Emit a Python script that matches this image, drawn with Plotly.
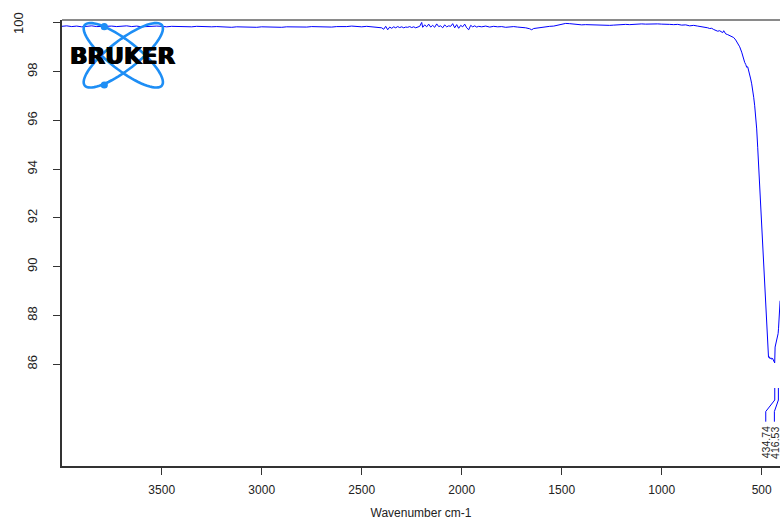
import math
import plotly.graph_objects as go

# ---------------- data ----------------
wavenumber = [
    4000, 3975, 3950, 3925, 3900, 3875, 3850, 3825, 3800, 3775, 3750, 3725, 3700, 3675, 3650, 3625,
    3600, 3575, 3550, 3525, 3500, 3475, 3450, 3425, 3400, 3375, 3350, 3325, 3300, 3275, 3250, 3225,
    3200, 3175, 3150, 3125, 3100, 3075, 3050, 3025, 3000, 2975, 2950, 2925, 2900, 2875, 2850, 2825,
    2800, 2775, 2750, 2725, 2700, 2675, 2650, 2625, 2600, 2575, 2550, 2525, 2500, 2475, 2450, 2425,
    2400, 2390, 2380, 2370, 2360, 2350, 2340, 2330, 2320, 2310, 2300, 2290, 2280, 2270, 2260, 2250,
    2240, 2230, 2220, 2210, 2200, 2195, 2185, 2175, 2165, 2155, 2145, 2135, 2125, 2115, 2105, 2095,
    2085, 2075, 2065, 2055, 2045, 2035, 2025, 2015, 2005, 1995, 1985, 1975, 1965, 1955, 1945, 1935,
    1925, 1915, 1900, 1880, 1860, 1840, 1820, 1800, 1780, 1760, 1740, 1720, 1700, 1680, 1660, 1650,
    1640, 1620, 1600, 1580, 1560, 1540, 1520, 1500, 1480, 1460, 1440, 1420, 1400, 1380, 1360, 1340,
    1320, 1300, 1280, 1260, 1240, 1220, 1200, 1180, 1160, 1140, 1120, 1100, 1080, 1060, 1040, 1020,
    1000, 980, 960, 940, 920, 900, 880, 860, 840, 820, 800, 790, 780, 770, 760, 750,
    740, 730, 720, 710, 700, 695, 690, 685, 680, 670, 660, 650, 640, 630, 620, 610,
    600, 595, 590, 585, 580, 575, 570, 565, 560, 555, 550, 545, 540, 535, 530, 525,
    520, 515, 510, 505, 500, 495, 490, 485, 480, 475, 470, 466, 462, 458, 454, 450,
    446, 442, 438, 435, 433, 430, 427, 424, 421, 418, 416, 413, 410, 408,
]
transmittance = [
    99.86, 99.88, 99.85, 99.87, 99.84, 99.86, 99.88, 99.85, 99.86, 99.84, 99.87, 99.85, 99.86, 99.88, 99.85, 99.87,
    99.84, 99.86, 99.85, 99.87, 99.86, 99.84, 99.86, 99.85, 99.83, 99.85, 99.84, 99.86, 99.85, 99.83, 99.84, 99.85,
    99.83, 99.84, 99.82, 99.84, 99.83, 99.85, 99.84, 99.82, 99.84, 99.83, 99.85, 99.84, 99.82, 99.84, 99.83, 99.85,
    99.84, 99.83, 99.85, 99.84, 99.86, 99.84, 99.83, 99.85, 99.84, 99.85, 99.87, 99.85, 99.84, 99.86, 99.85, 99.83,
    99.80, 99.74, 99.86, 99.72, 99.83, 99.78, 99.84, 99.80, 99.85, 99.81, 99.84, 99.80, 99.83, 99.82, 99.85, 99.81,
    99.84, 99.80, 99.83, 99.86, 100.02, 99.82, 99.92, 99.84, 99.95, 99.83, 99.90, 99.82, 99.96, 99.85, 99.88, 99.80,
    99.92, 99.84, 99.88, 99.86, 99.97, 99.80, 99.93, 99.78, 99.90, 99.84, 99.95, 99.80, 99.72, 99.90, 99.84, 99.88,
    99.83, 99.86, 99.84, 99.87, 99.83, 99.86, 99.84, 99.85, 99.82, 99.84, 99.85, 99.83, 99.82, 99.80, 99.76, 99.72,
    99.77, 99.80, 99.83, 99.85, 99.86, 99.87, 99.90, 99.95, 99.98, 99.97, 99.95, 99.93, 99.92, 99.93, 99.92, 99.91,
    99.93, 99.92, 99.91, 99.90, 99.91, 99.93, 99.92, 99.94, 99.93, 99.95, 99.94, 99.96, 99.95, 99.96, 99.97, 99.96,
    99.95, 99.96, 99.94, 99.93, 99.94, 99.91, 99.92, 99.88, 99.90, 99.87, 99.85, 99.83, 99.84, 99.80, 99.77, 99.78,
    99.73, 99.70, 99.66, 99.68, 99.64, 99.60, 99.68, 99.58, 99.55, 99.52, 99.47, 99.45, 99.40, 99.30, 99.18, 99.02,
    98.80, 98.62, 98.55, 98.38, 98.30, 98.18, 98.20, 97.98, 97.85, 97.70, 97.50, 97.30, 96.95, 96.60, 96.15, 95.65,
    94.90, 94.10, 93.20, 92.20, 91.60, 90.80, 90.00, 89.20, 88.30, 87.40, 86.60, 86.28, 86.30, 86.22, 86.26, 86.20,
    86.24, 86.18, 86.08, 86.05, 86.70, 86.82, 86.90, 86.95, 87.05, 87.25, 87.45, 88.00, 88.40, 88.60,
]
peak_positions = [434.74, 416.53]
peak_labels = ["434.74", "416.53"]
x_tick_values = [3500, 3000, 2500, 2000, 1500, 1000, 500]
y_tick_values = [86, 88, 90, 92, 94, 96, 98, 100]

# ---------------- layout geometry ----------------
W, H = 780, 520
ML, MR, MT, MB = 62, 0, 20, 54
X_RANGE = [3998.5, 408.5]
Y_RANGE = [81.82, 100.12]
PW, PH = W - ML - MR, H - MT - MB
x_px_per_unit = PW / (X_RANGE[0] - X_RANGE[1])
y_px_per_unit = PH / (Y_RANGE[1] - Y_RANGE[0])

FONT = "Liberation Sans, Arial, sans-serif"
AXIS_COL = "#333333"
BLUE = "#0000FF"
LOGO_BLUE = "#1E8EF5"


def px_to_paper(px, py):
    return (px - ML) / PW, (H - MB - py) / PH


def y_px_to_val(py):
    return Y_RANGE[1] - (py - MT) / y_px_per_unit


fig = go.Figure()

fig.add_trace(go.Scatter(
    x=wavenumber, y=transmittance, mode="lines",
    line=dict(color=BLUE, width=1), hoverinfo="skip", showlegend=False,
))

# peak marker lines and labels
label_px_offsets = [-9.0, -4.0]
for pk, lab, off in zip(peak_positions, peak_labels, label_px_offsets):
    lab_x = pk - off / x_px_per_unit
    fig.add_trace(go.Scatter(
        x=[lab_x, lab_x, pk, pk],
        y=[y_px_to_val(421.7), y_px_to_val(411.5), y_px_to_val(400), y_px_to_val(388)],
        mode="lines", line=dict(color=BLUE, width=1), hoverinfo="skip", showlegend=False,
    ))
    fig.add_annotation(
        x=lab_x, y=y_px_to_val(424.5), xref="x", yref="y", text=lab,
        textangle=-90, showarrow=False, xanchor="center", yanchor="top",
        font=dict(family=FONT, size=10.5, color="#222"),
    )

shapes = []
# top frame line (gray)
shapes.append(dict(type="line", xref="paper", yref="paper", x0=0, x1=1, y0=1, y1=1,
                   line=dict(color="#8a8a8a", width=2.2)))

# Bruker logo: two crossed ellipses
cx, cy, a, b = 123.3, 55.3, 49, 14.5
for ang in (38, -38):
    t = math.radians(ang)
    pts = []
    for i in range(73):
        s = 2 * math.pi * i / 72
        ex, ey = a * math.cos(s), b * math.sin(s)
        px = cx + ex * math.cos(t) - ey * math.sin(t)
        py = cy + ex * math.sin(t) + ey * math.cos(t)
        xp, yp = px_to_paper(px, py)
        pts.append(f"{xp:.5f},{yp:.5f}")
    path = "M" + " L".join(pts) + " Z"
    shapes.append(dict(type="path", xref="paper", yref="paper", path=path,
                       line=dict(color=LOGO_BLUE, width=2.6)))
for (dx, dy) in ((104.3, 26.7), (104.3, 85.0)):
    r = 3.6
    x0, y0 = px_to_paper(dx - r, dy + r)
    x1, y1 = px_to_paper(dx + r, dy - r)
    shapes.append(dict(type="circle", xref="paper", yref="paper", x0=x0, y0=y0, x1=x1, y1=y1,
                       fillcolor=LOGO_BLUE, line=dict(color=LOGO_BLUE, width=0)))

tx, ty = px_to_paper(122, 56)
fig.add_annotation(x=tx, y=ty, xref="paper", yref="paper", text="<b>BRUKER</b>",
                   showarrow=False, xanchor="center", yanchor="middle",
                   font=dict(family="DejaVu Sans, sans-serif", size=23, color="#000",
                             shadow="0.7px 0 0 #000, -0.7px 0 0 #000"))

# y tick label "100" sits further left in the reference
fig.add_annotation(x=0, xref="paper", y=100, yref="y", text="100", textangle=-90,
                   xshift=19 - ML, showarrow=False, xanchor="center", yanchor="middle",
                   font=dict(family=FONT, size=13, color="#222"))

fig.update_layout(
    width=W, height=H,
    margin=dict(l=ML, r=MR, t=MT, b=MB, pad=0),
    paper_bgcolor="white", plot_bgcolor="white",
    shapes=shapes, showlegend=False,
    xaxis=dict(
        range=X_RANGE, autorange=False, tickvals=x_tick_values,
        ticks="outside", ticklen=7, tickwidth=1.3, tickcolor=AXIS_COL,
        showline=True, linecolor=AXIS_COL, linewidth=1.6, showgrid=False, zeroline=False,
        tickfont=dict(family=FONT, size=12, color="#222"), ticklabelstandoff=5,
        title=dict(text="Wavenumber cm-1", font=dict(family=FONT, size=12, color="#222"), standoff=12),
        automargin=False,
    ),
    yaxis=dict(
        range=Y_RANGE, autorange=False, tickvals=y_tick_values,
        ticktext=[str(v) if v != 100 else "" for v in y_tick_values],
        tickangle=-90, ticks="outside", ticklen=7, tickwidth=1.3, tickcolor=AXIS_COL,
        showline=True, linecolor=AXIS_COL, linewidth=1.6, showgrid=False, zeroline=False,
        tickfont=dict(family=FONT, size=13, color="#222"), ticklabelstandoff=11,
        automargin=False,
    ),
)

fig.write_html("out.html")
